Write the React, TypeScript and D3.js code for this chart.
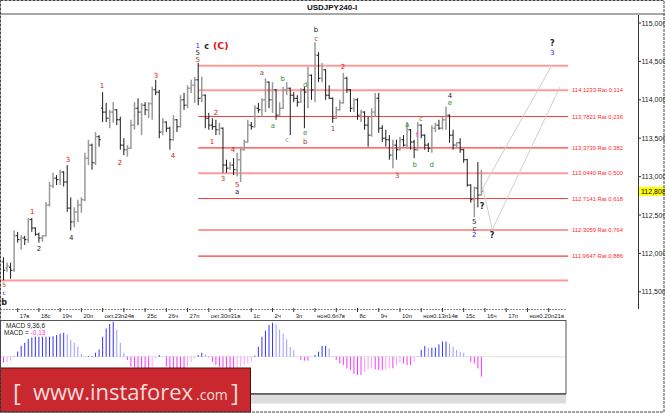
import React from 'react';
import * as d3 from 'd3';

// ---- data ----
const barOpen = [111.89,111.81,111.82,111.78,112.23,112.18,112.20,112.18,112.44,112.33,112.25,112.20,112.23,112.63,112.88,112.98,112.96,113.06,112.93,112.59,112.41,112.54,112.63,112.70,113.24,113.41,113.18,113.52,113.89,113.84,113.76,113.84,113.87,113.74,113.41,113.35,113.37,113.67,113.89,113.84,113.93,113.87,113.95,114.13,114.10,113.58,113.71,113.63,113.48,113.74,113.65,114.00,113.93,114.15,114.19,114.26,114.02,114.06,113.76,113.67,113.65,113.61,113.63,113.15,113.11,113.15,113.09,113.22,113.35,113.45,113.67,113.65,113.89,113.87,114.00,114.23,114.00,114.13,113.80,113.89,114.13,114.15,114.06,114.02,113.97,114.13,114.10,114.32,114.13,114.58,114.28,114.39,114.06,114.02,113.76,113.87,113.96,114.28,114.13,113.89,114.00,113.80,113.84,113.67,113.54,113.84,114.02,113.63,113.50,113.48,113.28,113.41,113.35,113.48,113.41,113.61,113.45,113.35,113.67,113.54,113.41,113.37,113.63,113.67,113.63,113.74,113.80,113.54,113.41,113.44,113.35,113.22,112.89,112.70,112.85,112.76];
const barHigh = [111.95,111.88,111.88,112.30,112.28,112.24,112.23,112.46,112.46,112.34,112.27,112.24,112.67,112.93,113.05,113.02,113.09,113.07,113.15,112.73,112.60,112.70,112.73,113.31,113.48,113.43,113.58,113.54,114.10,113.96,113.87,113.97,113.88,113.78,113.50,113.41,113.74,113.97,114.02,113.96,113.97,113.97,114.17,114.26,114.13,113.76,113.72,113.65,113.80,113.75,114.06,114.09,114.19,114.26,114.30,114.48,114.30,114.07,113.83,113.76,113.74,113.70,113.64,113.22,113.19,113.24,113.31,113.39,113.48,113.74,113.71,113.93,113.96,114.02,114.28,114.24,114.23,114.14,113.97,114.17,114.23,114.16,114.10,114.06,114.15,114.17,114.43,114.33,114.75,114.62,114.48,114.40,114.19,114.03,113.91,114.00,114.35,114.30,114.14,114.02,114.02,113.87,113.85,113.78,113.89,114.09,114.09,113.67,113.61,113.54,113.48,113.48,113.52,113.54,113.71,113.62,113.48,113.71,113.68,113.55,113.44,113.67,113.70,113.74,113.78,113.91,113.81,113.61,113.45,113.50,113.36,113.23,112.90,112.87,113.19,113.09];
const barLow = [111.65,111.76,111.67,111.76,112.14,112.05,112.11,112.14,112.28,112.23,112.14,112.15,112.22,112.61,112.85,112.89,112.89,112.87,112.54,112.30,112.34,112.41,112.53,112.68,113.15,113.09,113.15,113.39,113.71,113.71,113.63,113.70,113.67,113.35,113.28,113.26,113.36,113.61,113.67,113.54,113.80,113.76,113.74,114.06,113.50,113.54,113.58,113.35,113.47,113.58,113.64,113.87,113.89,114.09,113.96,113.93,113.97,113.63,113.61,113.61,113.54,113.54,113.05,113.05,113.09,113.02,113.00,112.93,113.34,113.44,113.61,113.64,113.83,113.78,113.84,113.89,113.83,113.74,113.79,113.88,114.06,113.54,113.97,113.91,113.96,113.63,113.89,114.00,113.97,114.23,114.23,114.00,114.01,113.70,113.75,113.86,113.95,114.09,113.84,113.84,113.74,113.71,113.61,113.39,113.52,113.78,113.57,113.45,113.39,113.22,113.11,113.22,113.34,113.39,113.37,113.35,113.24,113.34,113.50,113.35,113.32,113.31,113.58,113.61,113.61,113.61,113.44,113.35,113.37,113.31,113.18,112.87,112.66,112.47,112.60,112.75];
const barClose = [111.78,111.84,111.78,112.23,112.18,112.20,112.18,112.44,112.33,112.25,112.20,112.23,112.63,112.88,112.98,112.96,113.06,112.93,112.59,112.41,112.54,112.63,112.70,113.24,113.41,113.18,113.52,113.48,113.84,113.76,113.84,113.87,113.74,113.41,113.35,113.37,113.67,113.89,113.84,113.93,113.87,113.95,114.13,114.10,113.58,113.71,113.63,113.48,113.74,113.65,114.00,113.93,114.15,114.19,114.26,114.02,114.06,113.76,113.67,113.65,113.61,113.63,113.15,113.11,113.15,113.09,113.22,113.35,113.45,113.67,113.65,113.89,113.87,114.00,114.23,114.00,114.13,113.80,113.89,114.13,114.15,114.06,114.02,113.97,114.13,114.10,114.32,114.13,114.58,114.28,114.39,114.06,114.02,113.76,113.87,113.96,114.28,114.13,113.89,114.00,113.80,113.84,113.67,113.54,113.84,114.02,113.63,113.50,113.48,113.28,113.41,113.35,113.48,113.41,113.61,113.45,113.35,113.67,113.54,113.41,113.37,113.63,113.67,113.63,113.74,113.80,113.54,113.41,113.44,113.35,113.22,112.89,112.70,112.85,112.76,112.808];

const macdHist = [-0.039,-0.033,-0.026,0.003,0.033,0.070,0.091,0.115,0.125,0.130,0.130,0.130,0.130,0.130,0.133,0.141,0.151,0.156,0.145,0.109,0.091,0.065,0.018,0.002,0.005,0.005,0.026,0.047,0.130,0.184,0.213,0.228,0.177,0.091,0.026,-0.021,-0.065,-0.068,-0.072,-0.072,-0.072,-0.072,-0.065,-0.011,0.011,0.002,-0.065,-0.076,-0.076,-0.076,-0.076,-0.076,-0.065,-0.033,-0.011,0.011,0.026,0.015,-0.005,-0.033,-0.054,-0.065,-0.068,-0.072,-0.072,-0.072,-0.068,-0.065,-0.054,-0.044,-0.033,0.007,0.065,0.130,0.169,0.206,0.221,0.213,0.177,0.151,0.113,0.065,0.044,0.002,-0.021,-0.026,-0.026,-0.002,0.011,0.033,0.070,0.070,0.054,0.003,-0.021,-0.044,-0.054,-0.076,-0.086,-0.112,-0.119,-0.119,-0.098,-0.083,-0.076,-0.083,-0.086,-0.086,-0.083,-0.076,-0.076,-0.054,-0.039,-0.044,-0.054,-0.054,-0.033,0.002,0.044,0.070,0.059,0.059,0.060,0.080,0.098,0.098,0.086,0.065,0.044,0.033,0.026,0.002,-0.033,-0.044,-0.076,-0.130];

// one entry per trading day; a Monday label already carries the Tuesday text
const dayLabels = ["17в","18с","19ч","20п","окт.23п24в","","25с","26ч","27п","окт.30п31в","","1с","2ч","3п","ноя0.6п7в","","8с","9ч","10п","ноя0.13п14в","","15с","16ч","17п","ноя0.20п21в",""];
const priceTicks = [115, 114.5, 114, 113.5, 113, 112.5, 112, 111.5];
const fibLevels = [114.1233, 113.7821, 113.3739, 113.044, 112.7141, 112.3059, 111.9647];
const fibRatios = ["0,114", "0,236", "0,382", "0,500", "0,618", "0,764", "0,886"];
const fibTop = 114.442;
const fibBottom = 111.646;
const lastPrice = 112.808;
const symbol = "USDJPY240-I";
const macdTitle = "MACD 9,36,6";

const RED = "#dd1111", BROWN = "#a3431c", GREEN = "#2f8f2f", BLUE = "#2b2bff", DARK = "#222222", TEAL = "#5fa48e", MAG = "#ff33ff";
// [text, bar index, price, colour, bold, size]
const waveLabels: [string, number, number, string, boolean, number][] = [
  ["1", 54.9, 114.70, BLUE, false, 7], ["c", 57.4, 114.70, DARK, true, 8], ["(C)", 61.4, 114.70, RED, true, 9.5],
  ["5", 54.9, 114.61, DARK, false, 7], ["5", 54.9, 114.52, BROWN, false, 7],
  ["1", 27.8, 114.18, RED, false, 7], ["3", 43.1, 114.32, RED, false, 7], ["4", 47.9, 113.28, RED, false, 7],
  ["a", 73.0, 114.36, BROWN, false, 7], ["b", 78.9, 114.28, GREEN, false, 7], ["d", 85.2, 114.20, GREEN, false, 7],
  ["a", 76.1, 113.66, GREEN, false, 7], ["c", 80.1, 113.48, TEAL, false, 7], ["e", 85.2, 113.57, GREEN, false, 7],
  ["b", 85.2, 113.46, BROWN, false, 7], ["b", 88.3, 114.92, DARK, false, 7], ["c", 88.3, 114.80, BROWN, false, 7],
  ["1", 93.1, 113.62, BROWN, false, 7], ["2", 60.0, 113.83, RED, false, 7], ["1", 58.9, 113.46, RED, false, 7],
  ["4", 64.8, 113.35, RED, false, 7], ["3", 18.2, 113.22, RED, false, 7], ["1", 8.1, 112.55, RED, false, 7],
  ["2", 10.0, 112.06, DARK, false, 7], ["4", 19.1, 112.21, DARK, false, 7], ["2", 32.9, 113.18, RED, false, 7],
  ["3", 62.0, 112.97, BROWN, false, 7], ["5", 66.0, 112.90, RED, false, 7], ["a", 66.0, 112.80, DARK, false, 7],
  ["5", 0.2, 111.59, BROWN, false, 6], ["c", 0.2, 111.48, BLUE, false, 6], ["b", 0.2, 111.37, DARK, true, 8],
  ["?", 155.0, 114.74, DARK, true, 8], ["3", 155.0, 114.62, BLUE, false, 7], ["2", 95.9, 114.43, RED, false, 7],
  ["4", 126.1, 114.05, DARK, false, 7], ["e", 126.1, 113.96, GREEN, false, 7], ["a", 114.0, 113.68, GREEN, false, 7],
  ["c", 117.9, 113.76, GREEN, false, 7], ["f", 116.8, 113.55, MAG, false, 7], ["b", 116.2, 113.16, GREEN, false, 7],
  ["d", 121.0, 113.16, GREEN, false, 7], ["3", 111.2, 113.02, BROWN, false, 7], ["?", 135.2, 112.62, DARK, true, 8],
  ["5", 133.0, 112.42, DARK, false, 7], ["c", 133.0, 112.33, DARK, false, 7], ["2", 133.0, 112.24, BLUE, false, 7],
  ["?", 138.0, 112.24, DARK, true, 8],
];
const forecastA: [number, number][] = [[135.4, 112.85], [155.0, 114.46]];
const forecastB: [number, number][] = [[135.4, 112.85], [138.1, 112.31], [157.2, 114.17]];
const fibStartBar = 55;
const fibEndBar = 159.5;

const fmt = (v: number, d: number) => v.toFixed(d).replace('.', ',');

export default function App() {
  const x = d3.scaleLinear().domain([0, 135]).range([3.5, 481.4]);
  const y = d3.scaleLinear().domain([111.5, 115]).range([291.8, 23]);
  const ym = d3.scaleLinear().domain([-0.235, 0.235]).range([392.8, 320.6]);
  const line = d3.line<[number, number]>().x(d => x(d[0])).y(d => y(d[1]));
  const font = "'Liberation Sans', Arial, sans-serif";
  const dv = "'DejaVu Sans', sans-serif";

  const levelStyle = (i: number) =>
    (i === 1 || i === 2 || i === 4 || i === 6) ? { stroke: "#ff3b3b", w: 1.1 } : { stroke: "#ff9a9a", w: 2 };

  return (
    <>
      <style>{`body{margin:0;background:#fff}`}</style>
      <svg width={665} height={413} style={{ display: 'block' }} fontFamily={font}>
        <rect x={0} y={0} width={665} height={413} fill="#fff" />
        {/* title */}
        <text x={332} y={10} textAnchor="middle" fontSize={8} fontWeight="bold" fill="#111">{symbol}</text>
        <rect x={0} y={13} width={665} height={2} fill="#a8a8a8" />

        {/* price axis */}
        <line x1={638.5} y1={15} x2={638.5} y2={309} stroke="#333" strokeWidth={1} />
        {priceTicks.map(p => (
          <g key={p}>
            <line x1={638.5} x2={641} y1={y(p)} y2={y(p)} stroke="#333" />
            <text x={641.5} y={y(p) + 2.5} fontSize={7} fill="#222">{fmt(p, 3)}</text>
          </g>
        ))}

        {/* fib lines */}
        <line x1={x(fibStartBar)} x2={x(fibEndBar)} y1={y(fibTop)} y2={y(fibTop)} stroke="#ff9a9a" strokeWidth={2} />
        <line x1={0} x2={x(fibEndBar)} y1={y(fibBottom)} y2={y(fibBottom)} stroke="#ff9a9a" strokeWidth={2} />
        {fibLevels.map((lv, i) => {
          const s = levelStyle(i);
          return (
            <g key={lv}>
              <line x1={x(fibStartBar)} x2={x(fibEndBar)} y1={y(lv)} y2={y(lv)} stroke={s.stroke} strokeWidth={s.w} />
              <text x={572} y={y(lv) + 2} fontSize={6} fill="#ff2a2a" textLength={51} lengthAdjust="spacingAndGlyphs">
                {`${fmt(lv, 4)} Rat ${fibRatios[i]}`}
              </text>
            </g>
          );
        })}

        {/* forecast paths */}
        <path d={line(forecastA) || ''} fill="none" stroke="#cfcfcf" strokeWidth={1} />
        <path d={line(forecastB) || ''} fill="none" stroke="#cfcfcf" strokeWidth={1} />

        {/* OHLC bars */}
        {barOpen.map((o, i) => {
          const c = barClose[i];
          const up = c >= o;
          const col = up ? "#9a9a9a" : "#1a1a1a";
          const cx = x(i);
          return (
            <g key={i} stroke={col} strokeWidth={up ? 1.5 : 1}>
              <line x1={cx} x2={cx} y1={y(barHigh[i])} y2={y(barLow[i])} />
              <line x1={cx - 1.7} x2={cx} y1={y(o)} y2={y(o)} />
              <line x1={cx} x2={cx + 1.7} y1={y(c)} y2={y(c)} />
            </g>
          );
        })}

        {/* wave labels */}
        {waveLabels.map(([t, bi, p, col, b, fs], i) => (
          <text key={i} x={x(bi)} y={y(p)} dy="0.35em" textAnchor="middle" fill={col}
            fontFamily={dv} fontSize={fs} fontWeight={b ? 'bold' : 'normal'}>{t}</text>
        ))}

        {/* current price */}
        <rect x={639} y={y(lastPrice) - 4.5} width={26} height={9} fill="#ffff00" />
        <text x={641} y={y(lastPrice) + 2.5} fontSize={7} fill="#000">{fmt(lastPrice, 3)}</text>

        {/* time axis */}
        <line x1={0} x2={566} y1={309.5} y2={309.5} stroke="#8a8a8a" strokeWidth={1} strokeDasharray="2,1" />
        {dayLabels.map((lb, k) => {
          const tx = x(4 + 6 * k);
          return (
            <g key={k}>
              <line x1={tx} x2={tx} y1={308} y2={312} stroke="#333" />
              {lb ? <text x={tx + 2} y={317.5} fontSize={6} fill="#222">{lb}</text> : null}
            </g>
          );
        })}

        {/* MACD panel */}
        <rect x={0.5} y={320.5} width={565.5} height={73} fill="#fff" stroke="#555" strokeWidth={1} />
        <line x1={0} x2={566} y1={394.5} y2={394.5} stroke="#777" strokeWidth={1.5} />
        <rect x={0} y={395.5} width={566} height={8} fill="#dcdcdc" />
        <line x1={1} x2={565} y1={ym(0)} y2={ym(0)} stroke="#d0d0d0" strokeWidth={0.6} />
        {macdHist.map((v, i) => {
          const prev = i > 0 ? macdHist[i - 1] : v;
          let col;
          if (v >= 0) col = v >= prev ? "#3434ff" : "#9c9cff";
          else col = v <= prev ? "#ff33ff" : "#ff9cff";
          return <line key={i} x1={x(i)} x2={x(i)} y1={ym(0)} y2={ym(v)} stroke={col} strokeWidth={1} />;
        })}
        <text x={6} y={328} fontSize={6.5} fill="#222">{macdTitle}</text>
        <text x={4} y={335} fontSize={6.5} fill="#222">MACD = <tspan fill="#ff33ff">{fmt(macdHist[macdHist.length - 1], 2)}</tspan></text>

        {/* banner */}
        <rect x={0.5} y={368} width={250} height={44} fill="#c8282e" stroke="#4a1010" strokeWidth={1} />
        <g fill="#f6dcdc" fontFamily="'Open Sans', 'DejaVu Sans', sans-serif">
          <text x={13} y={401} fontSize={24}>[</text>
          <text x={33} y={400} fontSize={22}>www.instaforex</text>
          <text x={196} y={400} fontSize={14}>.com</text>
          <text x={231} y={401} fontSize={24}>]</text>
        </g>

        {/* outer frame */}
        <rect x={0.5} y={0.5} width={663.5} height={411.5} fill="none" stroke="#444" strokeWidth={1} strokeDasharray="3,1" />
      </svg>
    </>
  );
}
